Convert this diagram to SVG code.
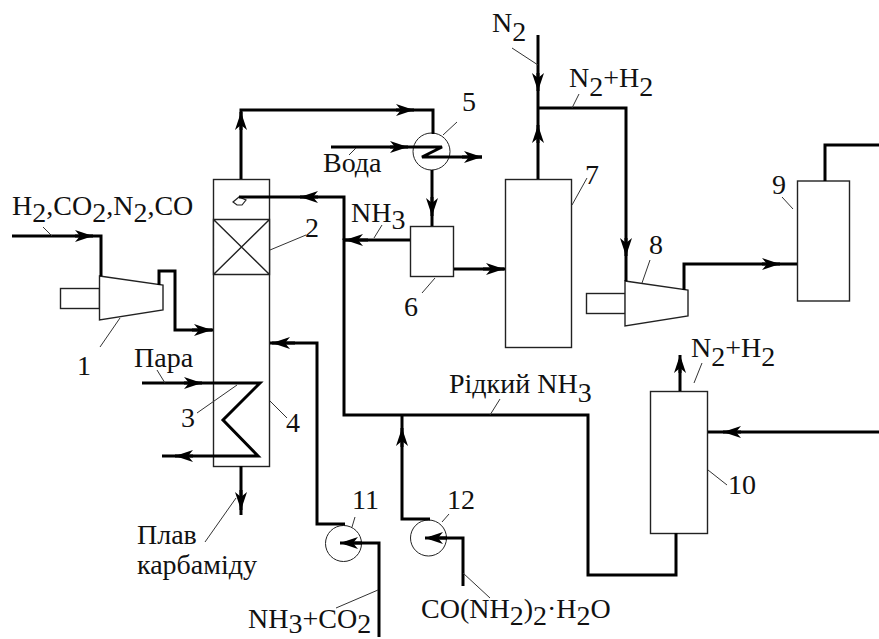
<svg xmlns="http://www.w3.org/2000/svg" width="879" height="639" viewBox="0 0 879 639">
<defs>
<marker id="arr" markerUnits="userSpaceOnUse" markerWidth="20" markerHeight="14" refX="18" refY="7" orient="auto"><path d="M0 1 L18 7 L0 13 L5 7 Z" fill="#000"/></marker>
</defs>
<style>
.e{fill:#fff;stroke:#222;stroke-width:1.400}
.c{fill:#fff;stroke:#222;stroke-width:1}
.a{fill:none;stroke:#000;stroke-width:3}
.h{fill:none;stroke:#000;stroke-width:3;marker-end:url(#arr)}
.t{fill:none;stroke:#333;stroke-width:1}
text{font-family:"Liberation Serif",serif;font-size:28px;fill:#111}
</style>
<rect width="879" height="639" fill="#fff"/>
<g id="node-1"><rect class="e" x="60.500" y="288.500" width="39" height="20"/><path class="e" d="M99.500 276 L163 285 V310 L99.500 320 Z"/></g>
<g id="node-2"><rect class="e" x="213.500" y="179.500" width="56" height="287"/><path class="e" d="M213.500 219.500 H269.500 V274.500 H213.500 Z M213.500 219.500 L269.500 274.500 M269.500 219.500 L213.500 274.500"/><path class="e" d="M233 202 L239 197 L246 200 L242 205 H237 Z" style="stroke-width:1.200"/></g>
<g id="node-5"><circle class="c" cx="431.500" cy="151.500" r="18.500"/></g>
<g id="node-6"><rect class="e" x="410.500" y="226.500" width="43" height="50"/></g>
<g id="node-7"><rect class="e" x="505.500" y="179.500" width="66" height="168"/></g>
<g id="node-8"><rect class="e" x="586.500" y="293.500" width="39" height="20"/><path class="e" d="M625 281 L688 290 V316 L625 326 Z"/></g>
<g id="node-9"><rect class="e" x="797.500" y="181" width="52" height="120"/></g>
<g id="node-10"><rect class="e" x="650.500" y="391.500" width="57" height="142"/></g>
<g id="node-11"><circle class="c" cx="343.500" cy="543.500" r="18"/></g>
<g id="node-12"><circle class="c" cx="428.500" cy="538" r="18"/></g>
<g id="connectors">
<path class="a" d="M12 236 H101 V276"/><path class="h" d="M75 236 H93"/>
<path class="a" d="M159 285 V271 H175 V330 H213"/><path class="h" d="M192 330 H212"/>
<path class="a" d="M241 179 V110 H433 V134"/><path class="h" d="M241 130 V112"/><path class="h" d="M396 110 H414"/>
<path class="a" d="M331 147 H413"/><path class="h" d="M390 147 H408"/>
<path class="a" d="M413 147 H442 L422 157 H482"/><path class="h" d="M462 157 H482"/>
<path class="a" d="M432 170 V226"/><path class="h" d="M432 197 V216"/>
<path class="a" d="M410 240 H344 V415 H588 V575 H676 V533"/><path class="h" d="M368 240 H345"/>
<path class="a" d="M344 240 V197 H239"/><path class="h" d="M318 197 H300"/>
<path class="a" d="M454 269 H505"/><path class="h" d="M483 269 H504"/>
<path class="a" d="M538 179 V35"/><path class="h" d="M538 143 V125"/><path class="h" d="M538 73 V91"/>
<path class="a" d="M538 108 H626 V281"/><path class="h" d="M626 238 V256"/>
<path class="a" d="M684 290 V264 H797"/><path class="h" d="M762 264 H780"/>
<path class="a" d="M825 181 V145 H879"/>
<path class="a" d="M879 432 H708"/><path class="h" d="M741 432 H723"/>
<path class="a" d="M680 391 V360"/><path class="h" d="M680 373 V355"/>
<path class="a" d="M142 383 H260 L223 420 L258 456 H162"/><path class="h" d="M184 383 H202"/><path class="h" d="M193 456 H175"/>
<path class="a" d="M241 466 V515"/><path class="h" d="M241 490 V510"/>
<path class="a" d="M270 343 H317 V524 H345"/><path class="h" d="M295 343 H272"/>
<path class="a" d="M379 637 V543 H345"/><path class="h" d="M362 543 H340"/>
<path class="a" d="M430 519 H402 V415"/><path class="h" d="M402 447 V428"/>
<path class="a" d="M463 586 V538 H430"/><path class="h" d="M447 538 H425"/>
<path class="t" d="M43 227 L52 236 M120 318 L100 347 M157 370 L165 383 M237 385 L197 413 M270 250 L306 235 M270 401 L287 418 M236 498 L205 542 M352 527 L355 517 M378 590 L336 608 M382 225 L374 238 M457 122 L443 135 M356 148 L349 155 M435 278 L422 293 M572 205 L587 178 M512 48 L538 65 M579 94 L572 108 M650 260 L642 283 M782 197 L793 209 M702 363 L694 383 M708 470 L727 485 M500 399 L490 415 M442 522 L449 514 M463 573 L490 598"/>
</g>
<g id="labels">
<text x="12" y="215">H<tspan dy="7">2</tspan><tspan dy="-7">,CO</tspan><tspan dy="7">2</tspan><tspan dy="-7">,N</tspan><tspan dy="7">2</tspan><tspan dy="-7">,CO</tspan></text>
<text x="77" y="375">1</text>
<text x="134" y="367">Пара</text>
<text x="305" y="237">2</text>
<text x="181" y="427">3</text>
<text x="286" y="432">4</text>
<text x="137" y="544">Плав</text>
<text x="137" y="574">карбаміду</text>
<text x="462" y="111">5</text>
<text x="323" y="172">Вода</text>
<text x="351" y="222">NH<tspan dy="7">3</tspan></text>
<text x="404" y="316">6</text>
<text x="585" y="184">7</text>
<text x="492" y="32">N<tspan dy="9">2</tspan></text>
<text x="569" y="87">N<tspan dy="9">2</tspan><tspan dy="-9">+H</tspan><tspan dy="9">2</tspan></text>
<text x="649" y="254">8</text>
<text x="772" y="194">9</text>
<text x="691" y="357">N<tspan dy="9">2</tspan><tspan dy="-9">+H</tspan><tspan dy="9">2</tspan></text>
<text x="449" y="393">Рідкий NH<tspan dy="9">3</tspan></text>
<text x="728" y="494">10</text>
<text x="352" y="509">11</text>
<text x="447" y="509">12</text>
<text x="248" y="628">NH<tspan dy="5">3</tspan><tspan dy="-5">+CO</tspan><tspan dy="5">2</tspan></text>
<text x="421" y="618">CO(NH<tspan dy="7">2</tspan><tspan dy="-7">)</tspan><tspan dy="7">2</tspan><tspan dy="-7">·H</tspan><tspan dy="7">2</tspan><tspan dy="-7">O</tspan></text>
</g>
</svg>
